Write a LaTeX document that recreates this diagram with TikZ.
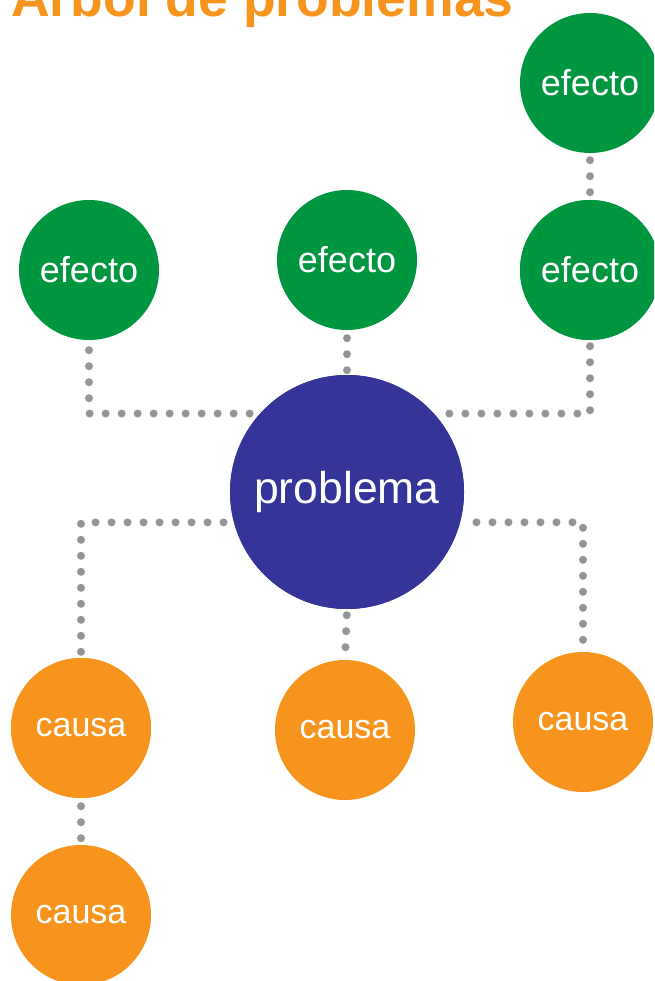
\documentclass[tikz,border=0pt]{standalone}
\usepackage{fontspec}
\setmainfont{Liberation Sans}
\definecolor{efgreen}{RGB}{0,150,64}
\definecolor{probblue}{RGB}{53,52,152}
\definecolor{causeorange}{RGB}{247,148,29}
\definecolor{dotgray}{RGB}{147,149,152}
\tikzset{
  bubble/.style={circle, minimum size=140pt, inner sep=0pt, text=white},
  efectonode/.style={bubble, fill=efgreen, font=\fontsize{36}{36}\selectfont},
  causanode/.style={bubble, fill=causeorange, font=\fontsize{34}{34}\selectfont},
  probnode/.style={circle, minimum size=234pt, inner sep=0pt, text=white, fill=probblue, font=\fontsize{44.5}{44.5}\selectfont},
  dotline/.style={dotgray, line width=8pt, line cap=round, dash pattern=on 0pt off 16pt},
}
\begin{document}
\begin{tikzpicture}[x=1pt, y=-1pt]
\useasboundingbox (0,0) rectangle (654,981);
\clip (0,0) rectangle (654,981);
% nodes
\node[probnode] (prob) at (347,492) {problema};
\node[efectonode] (e0) at (590,83) {efecto};
\node[efectonode] (e1) at (89,270) {efecto};
\node[efectonode] (e2) at (347,260) {efecto};
\node[efectonode] (e3) at (590,270) {efecto};
\node[causanode] (c1) at (81,728) {causa};
\node[causanode] (c2) at (345,730) {causa};
\node[causanode] (c3) at (583,722) {causa};
\node[causanode] (c4) at (81,915) {causa};
% connectors
\draw[dotline, shorten <=10pt] (e1.south) |- (prob.138);
\draw[dotline, shorten <=6pt] (e3.south) |- (prob.42);
\draw[dotline, shorten <=8pt, shorten >=4pt] (e2.south) -- (prob.north);
\draw[dotline, shorten <=7pt, shorten >=7pt] (e0.south) -- (e3.north);
\draw[dotline, shorten <=6pt, shorten >=10pt] (c1.north) |- (prob.195);
\draw[dotline, shorten <=12pt, shorten >=6pt] (c3.north) |- (prob.-15);
\draw[dotline, shorten <=6pt, shorten >=10pt] (prob.south) -- (c2.north);
\draw[dotline, shorten <=8pt, shorten >=6pt] (c1.south) -- (c4.north);
% redraw circles on top of the dotted lines
\node[probnode] at (prob) {problema};
\node[efectonode] at (e3) {efecto};
\node[causanode] at (c1) {causa};
% title
\node[anchor=base west, inner sep=0pt, text=causeorange, font=\fontsize{53.5}{53.5}\selectfont\bfseries] (title) at (11,17) {Árbol de problemas};
\end{tikzpicture}
\end{document}
